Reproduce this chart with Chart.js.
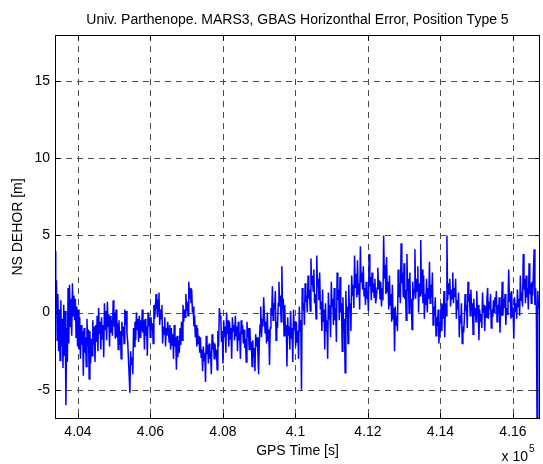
<!DOCTYPE html>
<html><head><meta charset="utf-8">
<script src="https://cdn.jsdelivr.net/npm/chart.js@4.4.1/dist/chart.umd.min.js"></script>
<style>html,body{margin:0;padding:0;background:#fff;overflow:hidden}</style>
</head><body>
<canvas id="c" width="543" height="464" style="display:block;width:543px;height:464px"></canvas>
<script>
const titleText = 'Univ. Parthenope. MARS3, GBAS Horizonthal Error, Position Type 5';
const xAxisTitle = 'GPS Time [s]';
const yAxisTitle = 'NS DEHOR [m]';
const xExponentBase = 'x 10';
const xExponent = '5';

const xTickValues = [404000, 406000, 408000, 410000, 412000, 414000, 416000];
const xTickLabels = ['4.04', '4.06', '4.08', '4.1', '4.12', '4.14', '4.16'];
const yTickValues = [-5, 0, 5, 10, 15];
const yTickLabels = ['-5', '0', '5', '10', '15'];
const xRange = [403366, 416745];
const yRange = [-6.9, 18];

// sample clock of the series (GPS seconds)
const timeStart = 403366;
const timeStep = 20.058;

// NS DEHOR [m], left to right
const dehorSeg1 = [
  4.0, 0.6, 2.1, -1.8, 1.2, -2.5, 0.2, -3.1, 0.8, -2.2, -0.4, -3.6, 0.5, -2.8, 0.1, -6.0, -1.0, -3.2, 1.6, -2.0,
  1.8, -0.9, 0.9, -1.5, 1.9, -0.2, 1.1, -0.5, 0.9, -1.6, 0.4, -2.2, 0.2, -2.4, -0.3, -3.0, -0.8, -2.1, -1.2, -4.1,
  -1.0, -2.6, -1.6, -3.5, -0.4, -2.2, -1.1, -4.3, -1.2, -3.3, -1.7, -2.8, -0.5, -2.1, -0.9, -3.2, -0.8, -1.9, -0.2, -2.5,
  0.3, -1.4, -0.6, -2.4, -0.3, -1.7, -0.8, -2.9, 0.6, -1.1, 0.1, -1.8, 0.7, -0.9, -0.1, -2.2, -0.2, -1.3, -0.5, -1.5,
  0.8, -0.9, 0.0, -1.7, 0.2, -1.6, -0.7, -2.4, -0.5, -2.1, -1.2, -3.0, -0.6, -1.5, -0.9, -2.0, 0.2, -0.8, 0.1, -1.4,
  -1.9, -3.0, -4.1, -5.2, -2.5, -3.4, -2.9, -4.0, -1.0, -2.2, -0.6, -1.8, 0.0, -1.1, -0.4, -1.9, -0.2, -1.6, -0.5, -1.2,
  0.2, -1.3, -0.5, -2.4, -0.4, -1.5, -0.9, -2.8, 0.0, -0.9, -0.3, -1.6, -0.3, -1.1, -0.7, -2.0, 0.5, -0.4, 0.3, 1.2,
  0.4, -0.3, 0.8, 1.3, -0.8, 0.2, -0.4, 0.5, -2.0, -0.9, -1.4, -0.3, -2.2, -1.0, -1.5, -0.6, -1.2, -1.9, -0.8, -2.4,
  -1.0, -2.1, -1.4, -3.0, -0.8, -2.2, -1.6, -3.7, -1.5, -2.9, -1.8, -2.6, -1.0, -2.1, -0.6, -1.8, 0.5, -0.6, 0.2, -0.3,
  1.2, 0.1, 0.7, -0.2, 2.0, 0.9, 1.6, 0.6, 1.5, 0.0, 0.4, -0.9, -0.2, -1.6, -0.8, -2.2, -1.0, -2.0, -1.5, -2.6,
  -1.6, -2.9, -2.4, -3.8, -2.2, -3.1, -2.6, -4.5, -1.5, -2.7, -2.1, -3.3, -2.0, -3.0, -2.5, -4.0, -1.4, -2.4, -1.9, -3.0,
  -2.0, -2.9, -2.4, -3.7, -1.2, -2.2, 0.3, -0.2
];
const dehorSeg2 = [
  -0.3, -1.9, -1.2, -3.3, -0.5, -1.6, -0.9, -2.6, 0.0, -1.4, -0.5, -2.2, -0.6, -1.7, -1.0, -3.0, -0.3, -1.2, -0.8, -1.8,
  -0.2, -1.5, -0.9, -2.5, -0.6, -1.8, -1.3, -3.0, -0.5, -1.4, -0.8, -2.0, -1.1, -2.3, -1.7, -3.2, -0.6, -1.6, -1.0, -2.4,
  -1.0, -2.4, -1.9, -3.5, -1.8, -2.9, -2.3, -3.8, -1.4, -2.2, -1.6, -2.6, -4.0, -1.9, -0.8, 0.4, -1.6, -0.4, -0.9, 1.0,
  -0.2, -1.3, -0.6, -2.0, 0.0, -1.8, -1.1, -3.4, -1.0, 0.3, -0.2, 1.7, -0.5, 0.6, 0.2, 1.4, -1.8, -0.6, -1.0, 0.6,
  2.0, 0.4, 1.1, -0.6, 3.0, 0.2, 0.9, -1.5, 0.5, -1.4, -0.8, -3.5, -0.3, -1.5, -0.9, -2.4, 0.1, -1.7, -1.0, -3.2,
  0.2, -1.1, -0.6, -2.2, -0.6, -1.9, -1.2, -3.0, 0.4, -1.2, -0.5, -5.0, 1.6, 0.2, 0.6, -0.8, 1.9, 0.7, 1.1, 0.0,
  2.4, 0.9, 1.5, 0.1, 3.5, 1.8, 2.4, 1.4, 2.8, 0.6, 1.2, -0.4, 3.7, 1.7, 2.2, 0.8, 2.6, 0.2, 0.7, -1.2,
  1.5, -0.6, 0.2, -2.4, 0.6, -1.2, -0.5, -3.0, 1.3, -0.4, 0.5, -1.6, 2.0, 0.4, 0.9, -0.8, 1.6, -0.5, 0.3, -1.9,
  2.6, 0.8, 1.5, -0.5, 2.3, 0.0, 0.6, -2.5, 1.0, -1.2, -0.4, -3.9, 1.4, -0.3, 0.4, -2.0, 1.8, 0.1, 0.6, -1.2,
  2.4, 1.1, 1.8, 0.3, 3.7, 1.6, 2.5, 1.0, 3.4, 1.2, 1.9, 0.2, 4.3, 2.0, 2.6, 1.5, 3.0, 1.1, 1.6, 0.5,
  2.0, 0.9, 1.4, 0.1, 3.8, 1.7, 2.3, 0.8, 2.6, 1.3, 1.9, 1.0, 2.2, 0.6, 1.0, 1.6, 2.9, 1.5, 2.1, 0.9
];
const dehorSeg3 = [
  2.0, 0.4, 1.6, 0.8, 5.0, 2.2, 3.1, 1.2, 3.6, 1.3, 2.0, 0.2, 2.4, 0.5, 1.2, -0.6, 1.8, -0.4, 0.3, -2.5,
  0.4, -0.8, -0.2, -1.2, 2.8, 1.0, 1.9, 0.6, 4.5, 1.9, 2.6, 1.0, 3.2, 0.9, 1.5, -0.5, 3.8, 1.4, 2.2, 0.0,
  2.6, 0.4, 0.9, -1.1, 2.0, 0.8, 1.5, 4.1, 0.9, 2.2, 1.4, 3.0, 0.0, 1.9, 1.1, 4.7, 1.2, 2.8, 0.6, 2.4,
  -0.4, 1.2, 0.5, 2.2, 0.0, 1.6, 0.9, 3.3, 0.6, 1.8, 1.0, 2.6, -0.8, 0.4, -0.2, 1.0, -1.5, -0.3, -0.9, 0.2,
  -2.0, -0.6, -1.3, 0.6, -1.2, 0.5, -0.4, 1.4, -1.6, 0.6, -0.2, 5.0, 0.8, 1.9, 1.2, 2.2, 0.4, 1.5, 0.9, 2.6,
  0.6, 1.6, 1.0, 2.2, -0.4, 0.8, 0.2, 1.3, -1.6, -0.2, -0.7, 0.6, -2.0, -0.9, -1.3, -0.4, 1.2, 0.1, 0.5, -1.0,
  2.0, 0.7, 1.2, -0.2, 1.5, 0.1, 0.6, -1.4, 0.9, -0.2, 0.3, -0.6, 1.4, 0.0, 0.5, -1.8, 0.2, -0.6, -0.1, -1.0,
  1.3, 0.0, 0.5, -1.2, 0.4, -0.3, 0.9, 1.6, -0.4, 0.7, 0.2, 1.2, -1.0, 0.2, -0.3, 0.8, 0.0, 1.0, 0.4, 1.4,
  -0.6, 0.5, 0.0, 1.0, -1.3, 0.4, -0.2, 2.0, -0.2, 0.9, 0.3, 1.2, -0.8, 0.3, -0.1, 0.6, 2.8, 0.7, 1.3, -0.4,
  1.4, -0.3, 0.3, -1.7, 1.0, 0.1, 0.6, -0.4, 1.5, 0.4, 0.9, -0.2, 2.4, 0.8, 1.3, 0.4, 3.8, 1.5, 2.2, 0.6,
  2.4, 1.0, 1.6, 0.2, 3.2, 1.2, 1.9, 0.6, 2.0, 1.1, 2.7, 4.1, 0.5, 1.6, 0.2, -7.5, 1.4, 0.3, 0.8, -0.6
];

const dehor = dehorSeg1.concat(dehorSeg2, dehorSeg3);
const points = dehor.map((v, i) => ({ x: timeStart + i * timeStep, y: v }));

const FONT = '"Liberation Sans", Arial, Helvetica, sans-serif';
const fnt = (s) => ({ family: FONT, size: s, weight: 'normal' });

const matlabAxes = {
  id: 'matlabAxes',
  beforeDatasetsDraw(chart) {
    const { ctx, chartArea: a, scales: { x, y } } = chart;
    ctx.save();
    ctx.strokeStyle = '#4d4d4d';
    ctx.lineWidth = 1;
    ctx.setLineDash([6, 5]);
    xTickValues.forEach(v => {
      const px = Math.round(x.getPixelForValue(v)) + 0.5;
      ctx.beginPath(); ctx.moveTo(px, a.top); ctx.lineTo(px, a.bottom); ctx.stroke();
    });
    yTickValues.forEach(v => {
      const py = Math.round(y.getPixelForValue(v)) + 0.5;
      ctx.beginPath(); ctx.moveTo(a.left, py); ctx.lineTo(a.right, py); ctx.stroke();
    });
    ctx.restore();
  },
  afterDatasetsDraw(chart) {
    const { ctx, chartArea: a, scales: { x, y } } = chart;
    const L = Math.round(a.left) + 0.5, R = Math.round(a.right) - 0.5;
    const T = Math.round(a.top) + 0.5, B = Math.round(a.bottom) - 0.5;
    ctx.save();
    ctx.setLineDash([]);
    ctx.strokeStyle = '#000';
    ctx.lineWidth = 1;
    ctx.strokeRect(L, T, R - L, B - T);
    const tl = 5;
    ctx.beginPath();
    xTickValues.forEach(v => {
      const px = Math.round(x.getPixelForValue(v)) + 0.5;
      ctx.moveTo(px, B); ctx.lineTo(px, B - tl);
      ctx.moveTo(px, T); ctx.lineTo(px, T + tl);
    });
    yTickValues.forEach(v => {
      const py = Math.round(y.getPixelForValue(v)) + 0.5;
      ctx.moveTo(L, py); ctx.lineTo(L + tl, py);
      ctx.moveTo(R, py); ctx.lineTo(R - tl, py);
    });
    ctx.stroke();
    ctx.fillStyle = '#000';
    ctx.textBaseline = 'middle';
    ctx.textAlign = 'right';
    ctx.font = '14px ' + FONT;
    ctx.fillText(xExponentBase, 528, 457);
    ctx.textAlign = 'left';
    ctx.font = '10px ' + FONT;
    ctx.fillText(xExponent, 529, 449);
    ctx.restore();
  }
};

new Chart(document.getElementById('c'), {
  type: 'line',
  data: {
    datasets: [{
      data: points,
      borderColor: '#0000ff',
      borderWidth: 1.5,
      pointRadius: 0,
      tension: 0,
      fill: false
    }]
  },
  options: {
    responsive: false,
    animation: false,
    devicePixelRatio: 1,
    layout: { padding: { left: 0, right: 3, top: 0, bottom: 0 } },
    plugins: {
      legend: { display: false },
      tooltip: { enabled: false },
      title: {
        display: true, text: titleText, color: '#000', font: fnt(14),
        fullSize: false, align: 'center',
        padding: { top: 11.6, bottom: 6.6 }
      }
    },
    scales: {
      x: {
        type: 'linear', min: xRange[0], max: xRange[1],
        grid: { display: false, drawTicks: false },
        border: { display: false },
        afterBuildTicks: s => { s.ticks = xTickValues.map(v => ({ value: v })); },
        afterFit: s => { s.height = 45; },
        ticks: {
          padding: 5, color: '#000', font: fnt(14), maxRotation: 0, autoSkip: false,
          callback: v => { const i = xTickValues.indexOf(v); return i >= 0 ? xTickLabels[i] : ''; }
        },
        title: { display: true, text: xAxisTitle, color: '#000', font: fnt(14), padding: { top: 0, bottom: 4.6 } }
      },
      y: {
        type: 'linear', min: yRange[0], max: yRange[1],
        grid: { display: false, drawTicks: false },
        border: { display: false },
        afterBuildTicks: s => { s.ticks = yTickValues.map(v => ({ value: v })); },
        afterFit: s => { s.width = 55; },
        ticks: {
          padding: 5, color: '#000', font: fnt(14), autoSkip: false,
          callback: v => { const i = yTickValues.indexOf(v); return i >= 0 ? yTickLabels[i] : ''; }
        },
        title: { display: true, text: yAxisTitle, color: '#000', font: fnt(14), padding: { top: 9.6, bottom: 0 } }
      }
    }
  },
  plugins: [matlabAxes]
});
</script>
</body></html>
